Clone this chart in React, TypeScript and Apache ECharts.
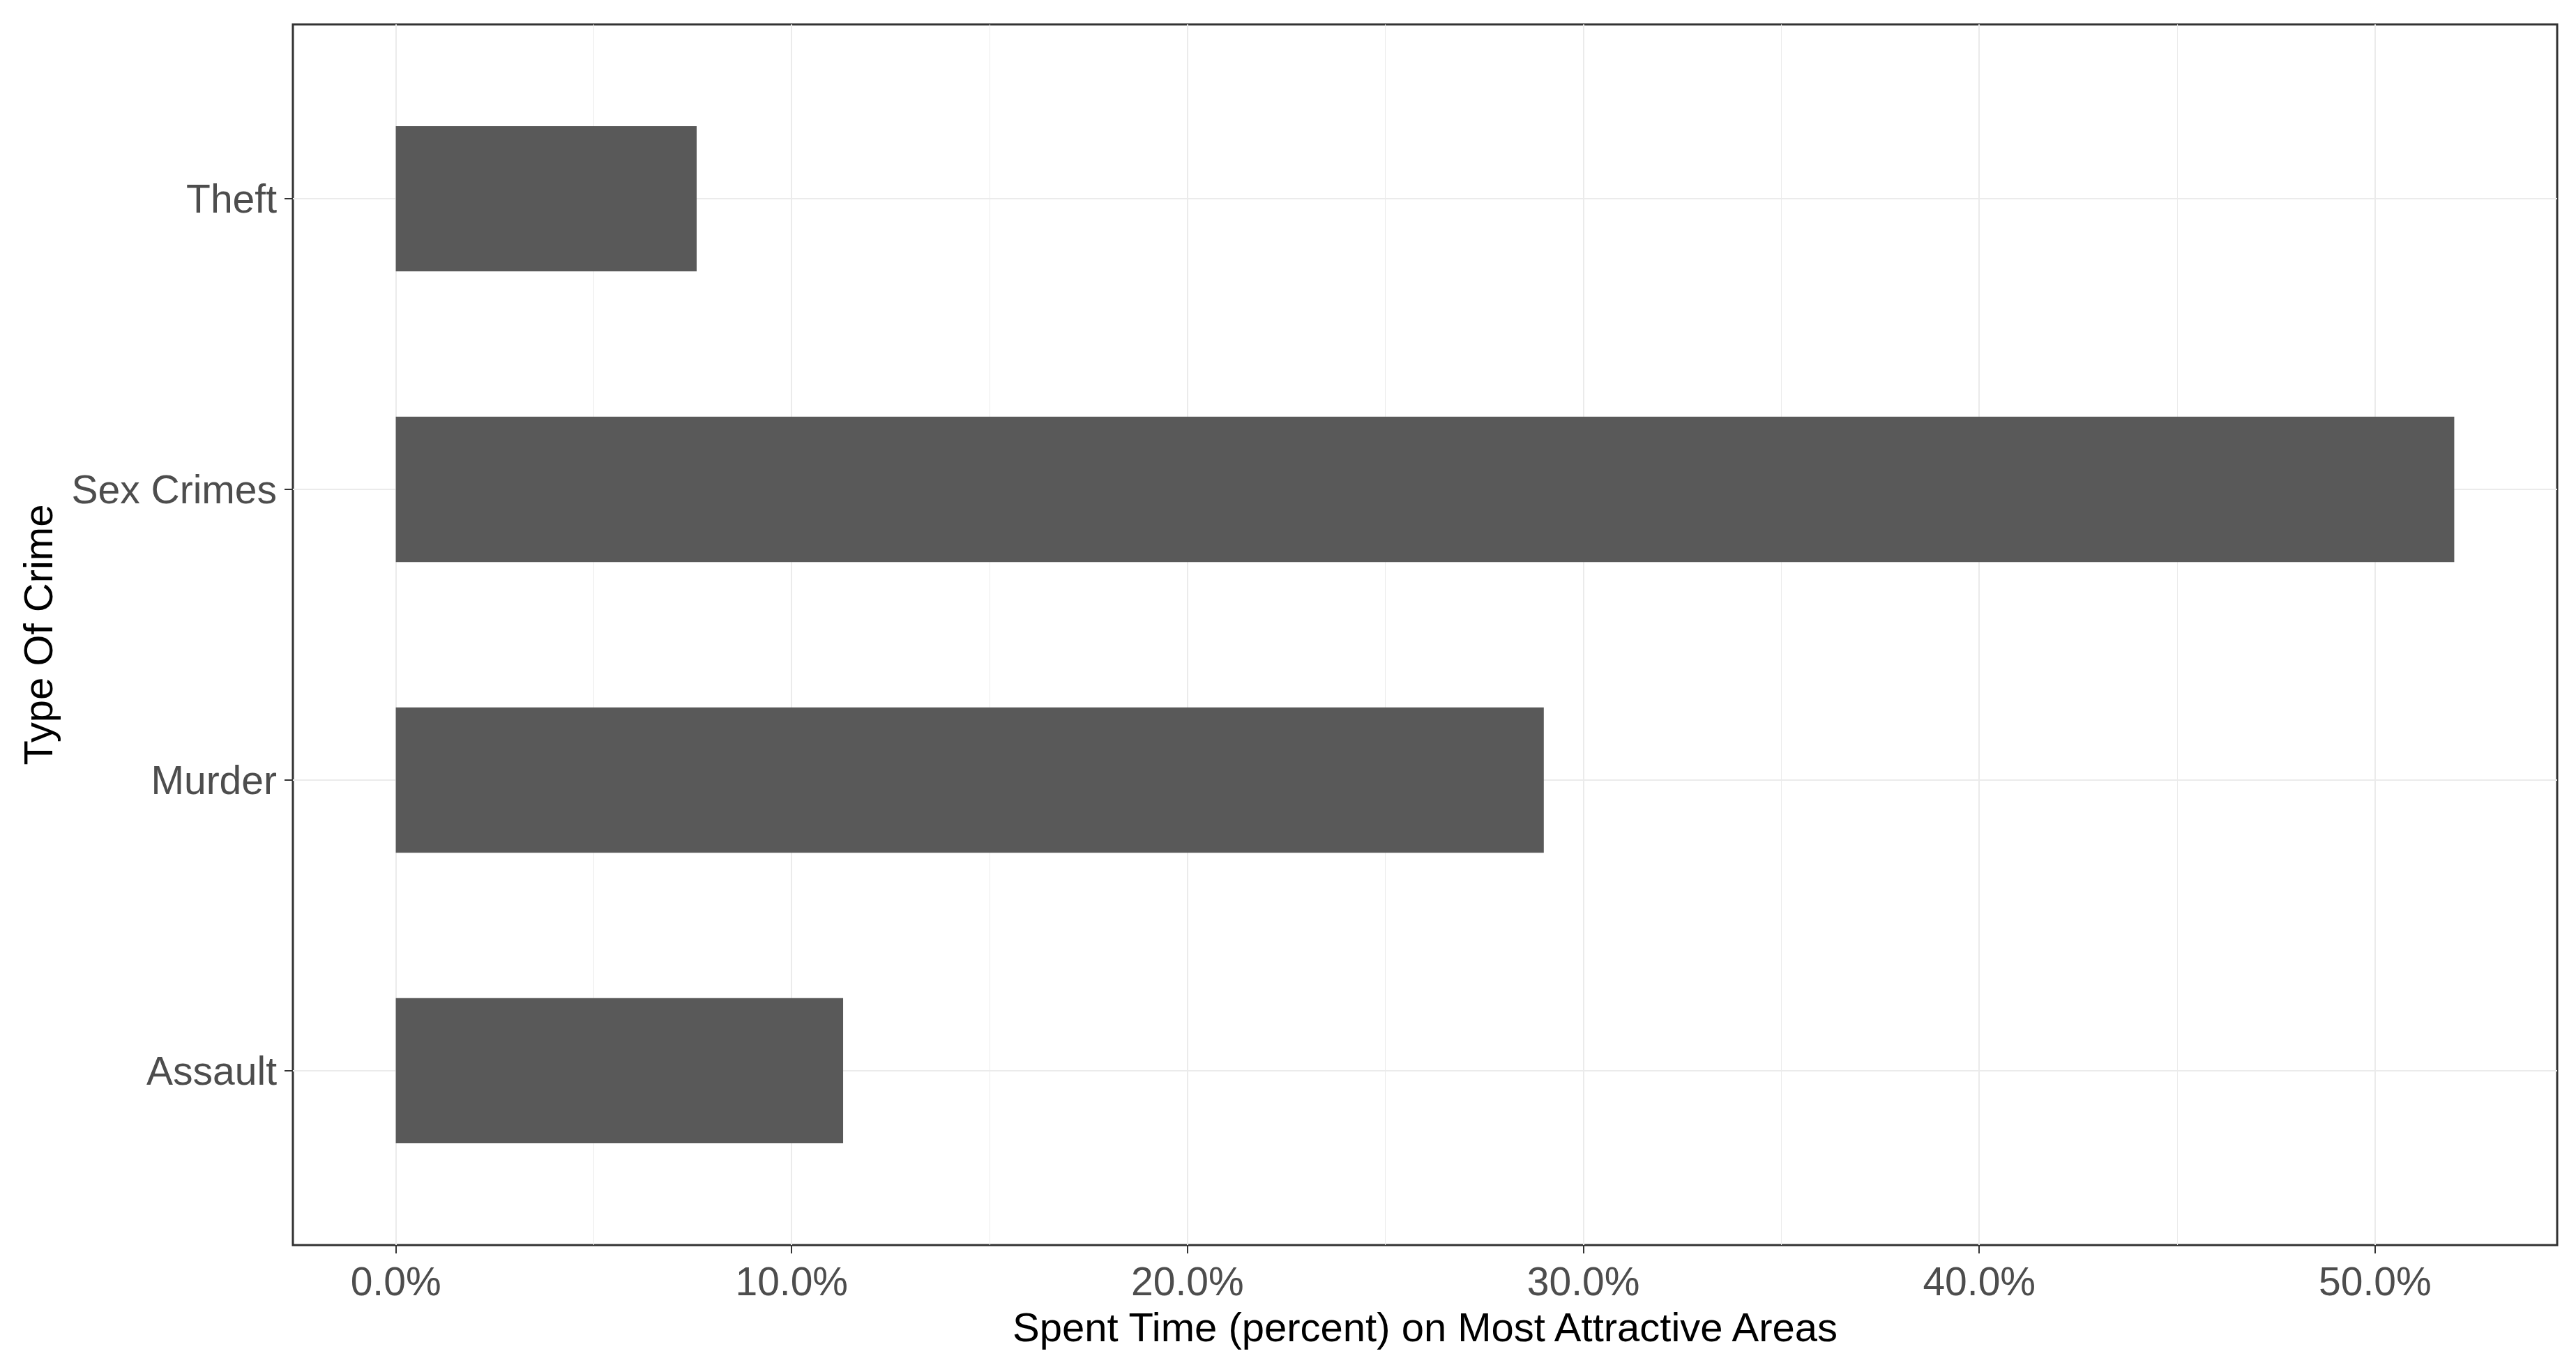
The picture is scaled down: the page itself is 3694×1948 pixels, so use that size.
import React, { useEffect, useRef } from "react";
import * as echarts from "echarts";

const categories = ["Assault", "Murder", "Sex Crimes", "Theft"];
const values = [11.3, 29.0, 52.0, 7.6];
const majorTicks = [0, 10, 20, 30, 40, 50];
const minorTicks = [5, 15, 25, 35, 45];
const xMin = -2.6;
const xMax = 54.6;
const xTitle = "Spent Time (percent) on Most Attractive Areas";
const yTitle = "Type Of Crime";

const FONT = "'Liberation Sans', Arial, sans-serif";

export default function App() {
  const ref = useRef<HTMLDivElement>(null);
  useEffect(() => {
    if (!ref.current) return;
    const chart = echarts.init(ref.current, null, { renderer: "svg" });
    const panelLeft = 420;
    const panelTop = 35;
    const panelW = 3247;
    const panelH = 1751;
    const unit = panelH / 4.2;
    chart.setOption({
      animation: false,
      backgroundColor: "#ffffff",
      grid: [
        {
          left: panelLeft,
          top: panelTop,
          width: panelW,
          height: panelH,
          show: true,
          backgroundColor: "#ffffff",
          borderColor: "#333333",
          borderWidth: 3,
        },
        {
          left: panelLeft,
          top: panelTop + 0.6 * unit,
          width: panelW,
          height: 3 * unit,
          show: false,
        },
      ],
      xAxis: [
        {
          type: "value",
          gridIndex: 0,
          min: xMin,
          max: xMax,
          axisLine: { show: false, onZero: false },
          axisTick: {
            show: true,
            customValues: majorTicks,
            length: 12,
            lineStyle: { color: "#333333", width: 2 },
          },
          axisLabel: {
            customValues: majorTicks,
            formatter: (v: number) => `${v.toFixed(1)}%`,
            color: "#4D4D4D",
            fontSize: 57,
            fontFamily: FONT,
            margin: 23,
          },
          splitLine: { show: true, lineStyle: { color: "#EBEBEB", width: 2 } },
          name: xTitle,
          nameLocation: "middle",
          nameGap: 88,
          nameTextStyle: { color: "#000000", fontSize: 58, fontFamily: FONT },
        },
        {
          type: "value",
          gridIndex: 0,
          min: xMin,
          max: xMax,
          axisLine: { show: false, onZero: false },
          axisTick: { show: false, customValues: minorTicks },
          axisLabel: { show: false, customValues: minorTicks },
          splitLine: { show: true, lineStyle: { color: "#EBEBEB", width: 1 } },
        },
        {
          type: "value",
          gridIndex: 1,
          min: xMin,
          max: xMax,
          axisLine: { show: false, onZero: false },
          axisTick: { show: false },
          axisLabel: { show: false },
          splitLine: { show: false },
        },
      ],
      yAxis: [
        {
          type: "category",
          gridIndex: 1,
          data: categories,
          boundaryGap: false,
          axisLine: { show: false, onZero: false },
          axisTick: {
            show: true,
            length: 12,
            alignWithLabel: true,
            lineStyle: { color: "#333333", width: 2 },
          },
          axisLabel: {
            color: "#4D4D4D",
            fontSize: 57,
            fontFamily: FONT,
            margin: 23,
            padding: [18, 0, 0, 0],
          },
          splitLine: { show: true, lineStyle: { color: "#EBEBEB", width: 2 } },
          name: yTitle,
          nameLocation: "middle",
          nameGap: 337,
          nameRotate: 90,
          nameTextStyle: { color: "#000000", fontSize: 58, fontFamily: FONT },
        },
        {
          type: "value",
          gridIndex: 0,
          min: 0,
          max: 1,
          axisLine: { show: false, onZero: false },
          axisTick: { show: false },
          axisLabel: { show: false },
          splitLine: { show: false },
        },
      ],
      series: [
        {
          type: "bar",
          xAxisIndex: 2,
          yAxisIndex: 0,
          data: values,
          barWidth: "50%",
          clip: false,
          itemStyle: { color: "#595959" },
          z: 3,
        },
      ],
    });
    return () => chart.dispose();
  }, []);
  return (
    <div
      ref={ref}
      style={{ position: "fixed", left: 0, top: 0, width: 3694, height: 1948 }}
    />
  );
}
